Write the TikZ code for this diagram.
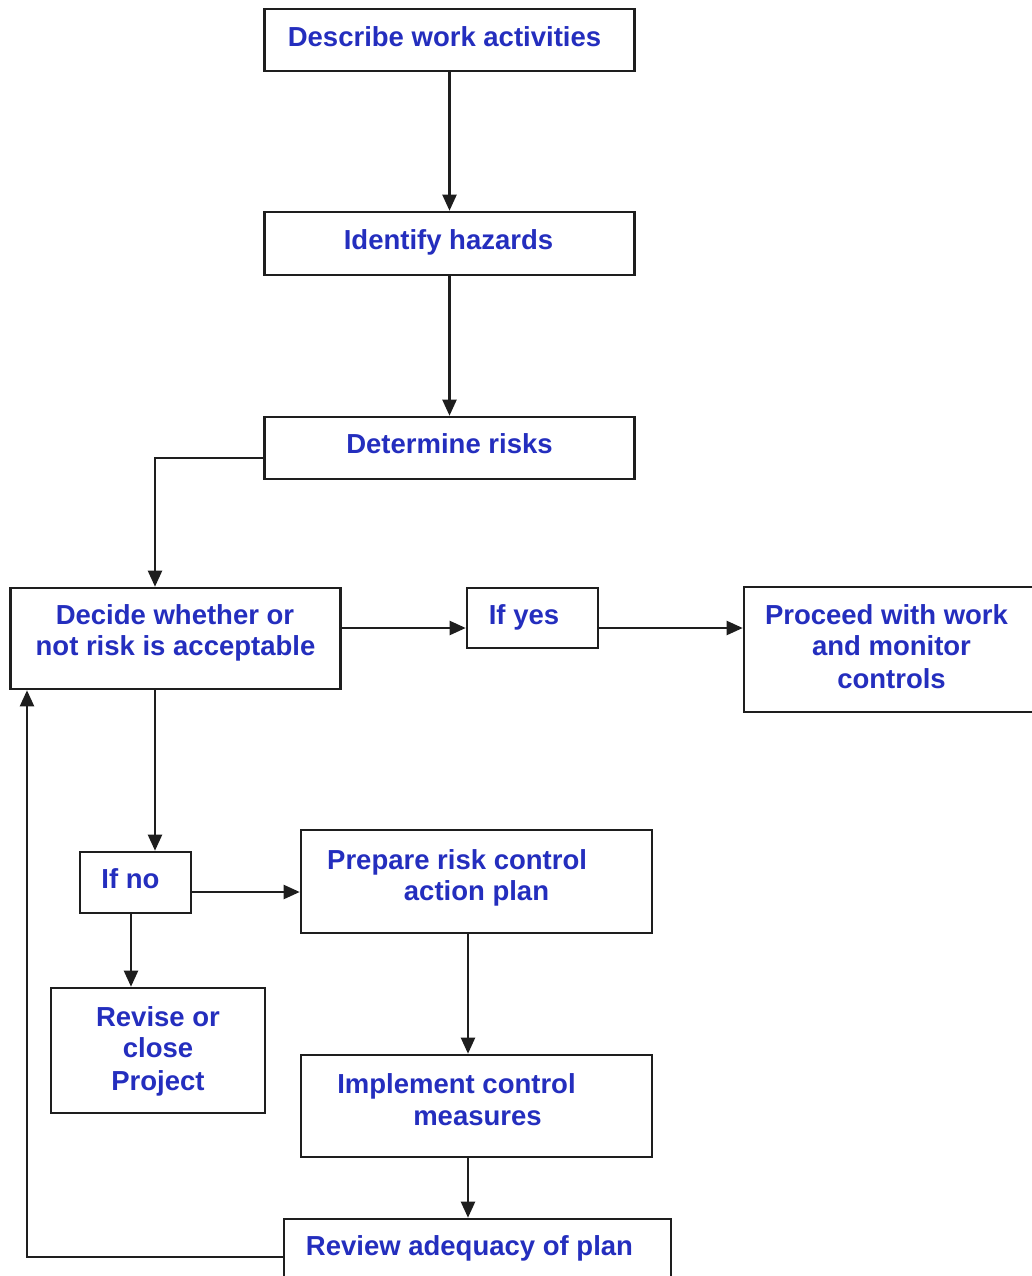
\documentclass[tikz,border=0pt]{standalone}
\usepackage{fontspec}
\setmainfont{Liberation Sans}
\usetikzlibrary{arrows.meta}
\definecolor{txtblue}{RGB}{36,46,190}
\definecolor{linegray}{RGB}{30,30,30}
\begin{document}
\begin{tikzpicture}[x=1pt,y=-1pt,
  box/.style={draw=linegray,line width=2.6pt,rectangle,inner sep=0pt,fill=white},
  lbl/.style={anchor=base,inner sep=0pt,text=txtblue,font=\fontsize{27.5}{31}\selectfont\bfseries},
  arr/.style={draw=linegray,line width=2.2pt,-{Triangle[length=16pt,width=14pt]}}]
\useasboundingbox (0,0) rectangle (1032,1276);
% boxes
\node[box,minimum width=370pt,minimum height=62pt] (describe) at (449.5,40) {};
\node[box,minimum width=370pt,minimum height=63pt] (identify) at (449.5,243.5) {};
\node[box,minimum width=370pt,minimum height=62pt] (determine) at (449.5,448) {};
\node[box,minimum width=330pt,minimum height=101pt] (decide) at (175.5,638.5) {};
\node[box,minimum width=131pt,minimum height=60pt] (ifyes) at (532.5,618) {};
\node[box,minimum width=300pt,minimum height=125pt] (proceed) at (894,649.5) {};
\node[box,minimum width=111pt,minimum height=61pt] (ifno) at (135.5,882.5) {};
\node[box,minimum width=351pt,minimum height=103pt] (prepare) at (476.5,881.5) {};
\node[box,minimum width=214pt,minimum height=125pt] (revise) at (158,1050.5) {};
\node[box,minimum width=351pt,minimum height=102pt] (implement) at (476.5,1106) {};
\node[box,minimum width=387pt,minimum height=80pt] (review) at (477.5,1259) {};
% texts
\node[lbl] (t1) at (444.5,47) {Describe work activities};
\node[lbl] (t2) at (448.5,249) {Identify hazards};
\node[lbl] (t3) at (449.5,453) {Determine risks};
\node[lbl] (t4a) at (175,624) {Decide whether or};
\node[lbl] (t4b) at (175.5,655) {not risk is acceptable};
\node[lbl] (t5) at (524,624) {If yes};
\node[lbl] (t6a) at (886.5,624) {Proceed with work};
\node[lbl] (t6b) at (891.5,655) {and monitor};
\node[lbl] (t6c) at (891.5,688) {controls};
\node[lbl] (t7) at (130.5,888) {If no};
\node[lbl,anchor=base west] (t8a) at (327,869) {Prepare risk control};
\node[lbl] (t8b) at (476.5,900) {action plan};
\node[lbl] (t9a) at (158,1026) {Revise or};
\node[lbl] (t9b) at (158,1057) {close};
\node[lbl] (t9c) at (158,1090) {Project};
\node[lbl] (t10a) at (456.5,1093) {Implement control};
\node[lbl] (t10b) at (477.5,1125) {measures};
\node[lbl] (t11) at (469.5,1255) {Review adequacy of plan};
% connectors
\draw[arr] (describe.south) -- (identify.north);
\draw[arr] (identify.south) -- (determine.north);
\draw[arr] ([yshift=-10pt]determine.west) -| ([xshift=-20.5pt]decide.north);
\draw[arr] ([yshift=10.5pt]decide.east) coordinate (c1) -- (c1 -| ifyes.west);
\draw[arr] ([yshift=-10pt]ifyes.east) coordinate (c2) -- (c2 -| proceed.west);
\draw[arr] ([xshift=-20.5pt]decide.south) coordinate (c3) -- (c3 |- ifno.north);
\draw[arr] ([yshift=-9.5pt]ifno.east) coordinate (c4) -- (c4 -| prepare.west);
\draw[arr] ([xshift=-4.5pt]ifno.south) coordinate (c5) -- (c5 |- revise.north);
\draw[arr] ([xshift=-8.5pt]prepare.south) coordinate (c6) -- (c6 |- implement.north);
\draw[arr] ([xshift=-8.5pt]implement.south) coordinate (c7) -- (c7 |- review.north);
\draw[arr] ([yshift=2pt]review.west) -| ([xshift=-148.5pt]decide.south);
\end{tikzpicture}
\end{document}
